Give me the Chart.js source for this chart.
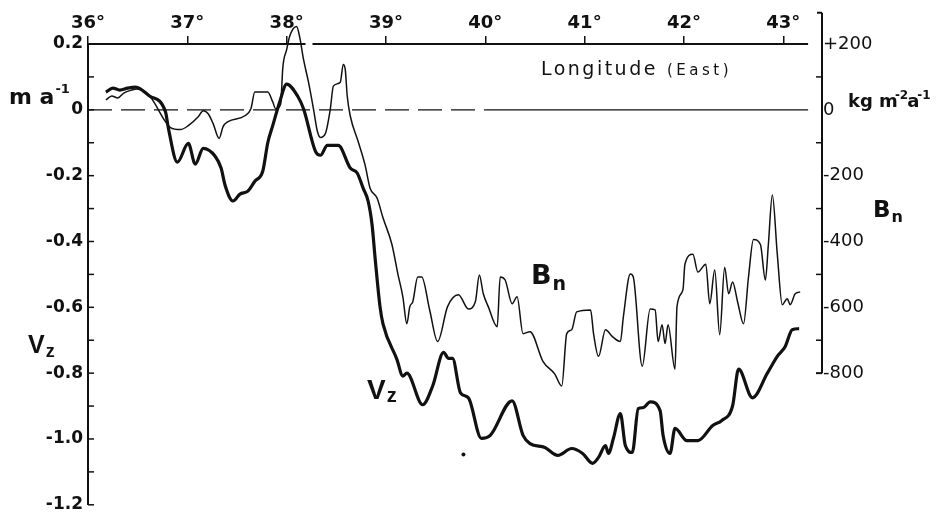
<!DOCTYPE html>
<html>
<head>
<meta charset="utf-8">
<title>Vz and Bn against longitude</title>
<script src="https://cdn.jsdelivr.net/npm/chart.js@4.4.1/dist/chart.umd.min.js"></script>
<style>
  html, body { margin: 0; padding: 0; background: #fff; }
  canvas { display: block; }
</style>
</head>
<body>
<canvas id="profileChart" width="945" height="520"></canvas>
<script>
// Vz (m a-1) and Bn (kg m-2 a-1) along the profile, longitude east

// tick values
const lonTicks = [36, 37, 38, 39, 40, 41, 42, 43];
const vzTicks = [0.2, 0, -0.2, -0.4, -0.6, -0.8, -1.0, -1.2];
const vzMinor = [0.1, -0.1, -0.3, -0.5, -0.7, -0.9, -1.1];
const bnTicks = [200, 0, -200, -400, -600, -800];
const bnMinor = [100, -100, -300, -500, -700];

// Vz, thick line
const vzLon = [36.18, 36.25, 36.32, 36.40, 36.48, 36.62, 36.78, 36.81, 36.90, 37.01,
    37.08, 37.16, 37.28, 37.34, 37.38, 37.46, 37.53, 37.61, 37.68, 37.76,
    37.81, 37.86, 37.93, 38.00, 38.11, 38.17, 38.29, 38.34, 38.41, 38.52,
    38.64, 38.71, 38.77, 38.82, 38.86, 38.89, 38.94, 38.97, 39.11, 39.17,
    39.21, 39.37, 39.47, 39.58, 39.63, 39.67, 39.75, 39.83, 39.96, 40.05,
    40.27, 40.38, 40.45, 40.60, 40.73, 40.87, 40.98, 41.08, 41.14, 41.21,
    41.24, 41.29, 41.36, 41.41, 41.48, 41.54, 41.59, 41.66, 41.76, 41.79,
    41.86, 41.91, 42.03, 42.14, 42.29, 42.38, 42.49, 42.55, 42.69, 42.84,
    42.94, 43.02, 43.09, 43.16];
const vzVal = [0.054, 0.066, 0.060, 0.066, 0.069, 0.042, -0.006, -0.057, -0.159, -0.102,
    -0.165, -0.117, -0.141, -0.177, -0.229, -0.277, -0.256, -0.247, -0.217, -0.186,
    -0.100, -0.048, 0.024, 0.078, 0.042, 0.003, -0.126, -0.138, -0.108, -0.108,
    -0.177, -0.192, -0.238, -0.277, -0.349, -0.448, -0.598, -0.650, -0.758, -0.809,
    -0.800, -0.896, -0.839, -0.737, -0.755, -0.755, -0.860, -0.875, -0.998, -0.989,
    -0.884, -0.989, -1.014, -1.026, -1.050, -1.029, -1.044, -1.074, -1.056, -1.020,
    -1.044, -0.998, -0.923, -1.020, -1.041, -0.908, -0.905, -0.887, -0.914, -0.989,
    -1.044, -0.968, -1.005, -1.005, -0.959, -0.944, -0.899, -0.788, -0.875, -0.800,
    -0.749, -0.719, -0.668, -0.665];

// Bn, thin line
const bnLon = [36.18, 36.24, 36.30, 36.36, 36.44, 36.49, 36.62, 36.78, 36.83, 36.93,
    37.01, 37.11, 37.16, 37.21, 37.26, 37.32, 37.36, 37.41, 37.58, 37.64,
    37.68, 37.81, 37.86, 37.89, 37.94, 37.95, 37.96, 38.00, 38.03, 38.10,
    38.13, 38.17, 38.22, 38.27, 38.31, 38.34, 38.39, 38.44, 38.47, 38.54,
    38.57, 38.59, 38.61, 38.64, 38.72, 38.79, 38.84, 38.91, 38.97, 39.06,
    39.12, 39.17, 39.21, 39.24, 39.27, 39.32, 39.36, 39.44, 39.52, 39.62,
    39.73, 39.83, 39.90, 39.94, 39.98, 40.03, 40.12, 40.15, 40.20, 40.27,
    40.32, 40.38, 40.45, 40.58, 40.70, 40.77, 40.82, 40.87, 40.92, 41.06,
    41.09, 41.14, 41.21, 41.28, 41.36, 41.39, 41.46, 41.49, 41.58, 41.66,
    41.71, 41.74, 41.78, 41.81, 41.84, 41.91, 41.93, 41.99, 42.01, 42.09,
    42.14, 42.22, 42.26, 42.31, 42.36, 42.41, 42.45, 42.49, 42.54, 42.60,
    42.65, 42.70, 42.77, 42.82, 42.85, 42.89, 42.94, 42.99, 43.04, 43.07,
    43.12, 43.17];
const bnVal = [30, 42, 36, 51, 60, 63, 42, -36, -54, -60,
    -48, -21, -3, -12, -42, -87, -51, -36, -18, 3,
    54, 54, 24, 3, 18, 63, 123, 183, 223, 253,
    223, 153, 84, 3, -66, -84, -72, 3, 72, 84,
    138, 123, 42, -18, -96, -168, -238, -268, -328, -409,
    -499, -568, -650, -598, -583, -508, -508, -608, -704, -598,
    -562, -605, -583, -502, -559, -598, -659, -508, -517, -589,
    -568, -680, -674, -764, -803, -839, -680, -668, -614, -608,
    -680, -749, -668, -689, -704, -629, -499, -508, -779, -605,
    -608, -704, -653, -710, -653, -788, -598, -547, -469, -439,
    -493, -469, -589, -487, -683, -478, -559, -523, -583, -650,
    -508, -394, -409, -517, -409, -259, -439, -592, -574, -592,
    -559, -553];

// stray dot below the curves
const dotLon = [39.78];
const dotVal = [-1.047];

const ink = '#111';
Chart.defaults.font.family = 'DejaVu Sans';
Chart.defaults.color = ink;

function pts(xs, ys) {
    var out = [];
    for (var i = 0; i < xs.length; i++) {
        out.push({x: xs[i], y: ys[i]});
    }
    return out;
}

function seg(ctx, x1, y1, x2, y2) {
    ctx.beginPath();
    ctx.moveTo(x1, y1);
    ctx.lineTo(x2, y2);
    ctx.stroke();
}

// text with a raised or lowered tail, returns the x where it ends
function tail(ctx, main, small, x, y, font, size, smallSize, shift, gap) {
    ctx.font = font.replace('#', size);
    ctx.fillText(main, x, y);
    var w = ctx.measureText(main).width + gap;
    ctx.font = font.replace('#', smallSize);
    ctx.fillText(small, x + w, y + shift);
    return x + w + ctx.measureText(small).width;
}

// axis lines, inward ticks, zero line and the labels
const frame = {
    id: 'frame',
    beforeDatasetsDraw(chart) {
        const ctx = chart.ctx, ca = chart.chartArea;
        const sx = chart.scales.x, sy = chart.scales.y, sb = chart.scales.y2;
        ctx.save();
        ctx.strokeStyle = ink;

        // zero line, dashed in the west, solid further east
        const y0 = sy.getPixelForValue(0);
        ctx.lineWidth = 1.3;
        ctx.setLineDash([24, 9]);
        seg(ctx, sx.getPixelForValue(36), y0, sx.getPixelForValue(40), y0);
        ctx.setLineDash([]);
        seg(ctx, sx.getPixelForValue(40), y0, sx.getPixelForValue(43.25), y0);

        // top axis, broken where Bn passes through
        const yt = sy.getPixelForValue(0.2);
        ctx.lineWidth = 2;
        seg(ctx, ca.left, yt, sx.getPixelForValue(38.19), yt);
        seg(ctx, sx.getPixelForValue(38.26), yt, sx.getPixelForValue(43.25), yt);

        // left ticks point into the plot
        ctx.lineWidth = 1.5;
        vzTicks.concat(vzMinor).forEach(function(v) {
            const p = sy.getPixelForValue(v);
            seg(ctx, ca.left, p, ca.left + 6, p);
        });

        // right axis only runs down to -800
        const xr = ca.right;
        const top = sb.getPixelForValue(295), bot = sb.getPixelForValue(-800);
        ctx.lineWidth = 2;
        seg(ctx, xr, top, xr, bot);
        seg(ctx, xr - 5, top, xr, top);
        seg(ctx, xr - 6, bot, xr, bot);
        ctx.lineWidth = 1.5;
        bnMinor.forEach(function(v) {
            const p = sb.getPixelForValue(v);
            seg(ctx, xr - 6, p, xr, p);
        });
        ctx.restore();
    },
    afterDraw(chart) {
        const ctx = chart.ctx, ca = chart.chartArea;
        const sx = chart.scales.x, sy = chart.scales.y;
        const dv = 'bold #px DejaVu Sans', lib = 'bold #px Liberation Sans';
        ctx.save();
        ctx.fillStyle = ink;
        ctx.textBaseline = 'alphabetic';
        ctx.textAlign = 'left';

        // left unit and name
        tail(ctx, 'm a', '-1', ca.left - 79, sy.getPixelForValue(0) - 6, dv, 22, 13, -11, 1);
        tail(ctx, 'V', 'z', ca.left - 60, 353, lib, 25, 18, 4, 1);

        // right unit and name
        const yu = sy.getPixelForValue(0) - 3;
        var x = tail(ctx, 'kg m', '-2', ca.right + 26, yu, dv, 18, 12, -8, -3);
        tail(ctx, 'a', '-1', x - 1, yu, dv, 18, 12, -8, -2);
        tail(ctx, 'B', 'n', ca.right + 51, 217, dv, 23, 16, 5, 1);

        // curve names inside the plot
        tail(ctx, 'V', 'z', sx.getPixelForValue(38.81), sy.getPixelForValue(-0.878), lib, 28, 20, 3, 1);
        tail(ctx, 'B', 'n', sx.getPixelForValue(40.46), sy.getPixelForValue(-0.529), dv, 27, 19, 6, 1);

        // axis title under the top axis
        ctx.font = '19px DejaVu Sans';
        ctx.letterSpacing = '2.5px';
        const lx = sx.getPixelForValue(40.56), ly = ca.top + 31;
        ctx.fillText('Longitude', lx, ly);
        const lw = ctx.measureText('Longitude').width;
        ctx.font = '15px DejaVu Sans';
        ctx.letterSpacing = '3.5px';
        ctx.fillText('(East)', lx + lw + 9, ly);
        ctx.restore();
    }
};

const ctx = document.getElementById('profileChart').getContext('2d');
const profileChart = new Chart(ctx, {
    type: 'line',
    data: {
        datasets: [
            {
                label: 'Vz',
                data: pts(vzLon, vzVal),
                yAxisID: 'y',
                borderColor: ink,
                borderWidth: 3.2,
                pointRadius: 0,
                cubicInterpolationMode: 'monotone',
                fill: false
            },
            {
                label: 'Bn',
                data: pts(bnLon, bnVal),
                yAxisID: 'y2',
                borderColor: ink,
                borderWidth: 1.5,
                pointRadius: 0,
                cubicInterpolationMode: 'monotone',
                clip: false,
                fill: false
            },
            {
                type: 'scatter',
                label: 'dot',
                data: pts(dotLon, dotVal),
                yAxisID: 'y',
                pointRadius: 2,
                pointBackgroundColor: ink,
                pointBorderWidth: 0,
                showLine: false
            }
        ]
    },
    options: {
        responsive: false,
        animation: false,
        events: [],
        layout: { padding: { top: 0, right: 0, bottom: 10, left: 0 } },
        plugins: {
            legend: { display: false },
            tooltip: { enabled: false }
        },
        scales: {
            x: {
                type: 'linear',
                position: 'top',
                min: 36,
                max: 43.39,
                afterBuildTicks: function(scale) {
                    scale.ticks = lonTicks.map(function(v) { return {value: v}; });
                },
                afterFit: function(scale) { scale.height = 44; },
                border: { display: false },
                grid: {
                    drawOnChartArea: false,
                    drawTicks: true,
                    tickLength: 8,
                    tickColor: ink,
                    lineWidth: 1.5
                },
                ticks: {
                    padding: 2,
                    maxRotation: 0,
                    font: { size: 18, weight: 'bold' },
                    callback: function(v) { return v + '°'; }
                }
            },
            y: {
                type: 'linear',
                position: 'left',
                min: -1.2,
                max: 0.2,
                afterBuildTicks: function(scale) {
                    scale.ticks = vzTicks.map(function(v) { return {value: v}; });
                },
                afterFit: function(scale) { scale.width = 88; },
                border: { display: true, color: ink, width: 2 },
                grid: { drawOnChartArea: false, drawTicks: false },
                ticks: {
                    padding: 5,
                    font: { size: 17, weight: 'bold' },
                    callback: function(v) { return v === 0 ? '0' : v.toFixed(1); }
                }
            },
            y2: {
                type: 'linear',
                position: 'right',
                min: -1200,
                max: 200,
                afterBuildTicks: function(scale) {
                    scale.ticks = bnTicks.map(function(v) { return {value: v}; });
                },
                afterFit: function(scale) { scale.width = 123; },
                border: { display: false },
                grid: { drawOnChartArea: false, drawTicks: false },
                ticks: {
                    padding: 1,
                    font: { size: 18 },
                    callback: function(v) { return v > 0 ? '+' + v : String(v); }
                }
            }
        }
    },
    plugins: [frame]
});
</script>
</body>
</html>
